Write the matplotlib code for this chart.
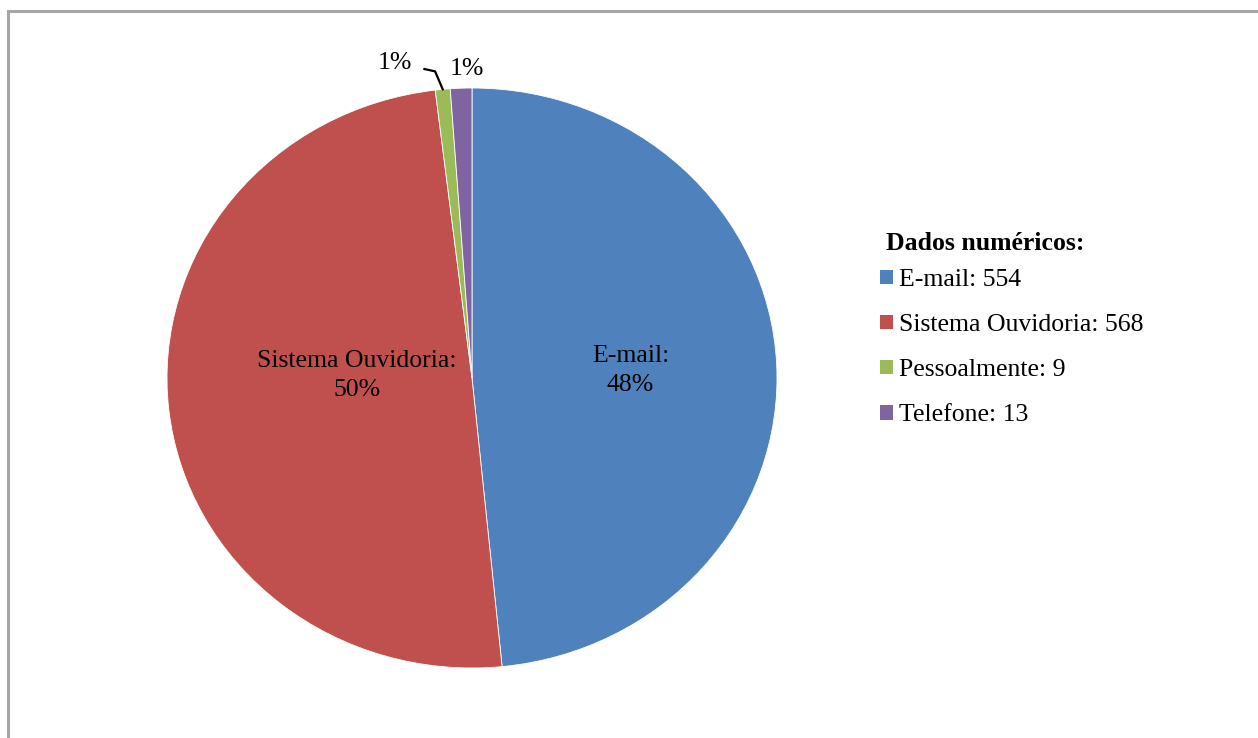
import numpy as np
import matplotlib.pyplot as plt
from matplotlib.patches import Rectangle

# dados
categorias = ['E-mail', 'Sistema Ouvidoria', 'Pessoalmente', 'Telefone']
valores = [554, 568, 9, 13]
cores = ['#4F81BD', '#C0504D', '#9BBB59', '#8064A2']

plt.rcParams['font.family'] = ['Liberation Serif', 'DejaVu Serif']

W, H = 1258, 738
fig = plt.figure(figsize=(W / 100, H / 100), dpi=100)

# moldura cinza
fig.patches.append(Rectangle((8 / W, -0.05), 1.2, 1 - 11 / H + 0.05, transform=fig.transFigure,
                             fill=False, edgecolor='#A6A6A6', linewidth=2.2))

# eixo da pizza (levemente elíptica como no original)
cx, cy, rx, ry = 472, 378, 305, 290
ax = fig.add_axes([(cx - rx) / W, (H - cy - ry) / H, 2 * rx / W, 2 * ry / H])
wedges, _ = ax.pie(valores, colors=cores, startangle=90, counterclock=False,
                   radius=1, wedgeprops=dict(edgecolor='white', linewidth=0.6))
ax.set_xlim(-1, 1)
ax.set_ylim(-1, 1)
ax.set_aspect('auto')
ax.axis('off')

total = sum(valores)
pct = [f'{round(v / total * 100):.0f}%' for v in valores]
fs = 18.5

# rótulos das fatias grandes
dist = [0.52, 0.38]
dy = [0.0, 0.05]
for i in range(2):
    w = wedges[i]
    ang = np.deg2rad((w.theta1 + w.theta2) / 2)
    ax.text(dist[i] * np.cos(ang), dist[i] * np.sin(ang) + dy[i], f'{categorias[i]}:\n{pct[i]}',
            ha='center', va='center', fontsize=fs, linespacing=1.4)

# rótulos das fatias pequenas
w = wedges[3]
ang = np.deg2rad((w.theta1 + w.theta2) / 2)
ax.text(1.065 * np.cos(ang) + 0.02, 1.065 * np.sin(ang), pct[3], ha='center', va='center',
        fontsize=fs, clip_on=False)

w = wedges[2]
ang = np.deg2rad((w.theta1 + w.theta2) / 2)
x0, y0 = np.cos(ang), np.sin(ang)
ax.plot([x0, x0 - 0.025, x0 - 0.06], [y0, y0 + 0.062, y0 + 0.07], color='black',
        linewidth=1.6, clip_on=False)
ax.text(x0 - 0.1, y0 + 0.09, pct[2], ha='right', va='center', fontsize=fs,
        clip_on=False)

# legenda
fig.text(886 / W, 1 - 243 / H, 'Dados numéricos:', fontsize=fs, fontweight='bold',
         ha='left', va='center')
rotulos = [f'{c}: {v}' for c, v in zip(categorias, valores)]
leg = fig.legend(wedges, rotulos, loc='upper left', bbox_to_anchor=(880 / W, 1 - 269 / H),
                 frameon=False, fontsize=fs, borderpad=0,
                 handlelength=0.5, handleheight=0.5, handletextpad=0.25,
                 labelspacing=0.9, borderaxespad=0)
for h in leg.legend_handles:
    h.set_edgecolor('none')

fig.savefig('out.png', dpi=100)
